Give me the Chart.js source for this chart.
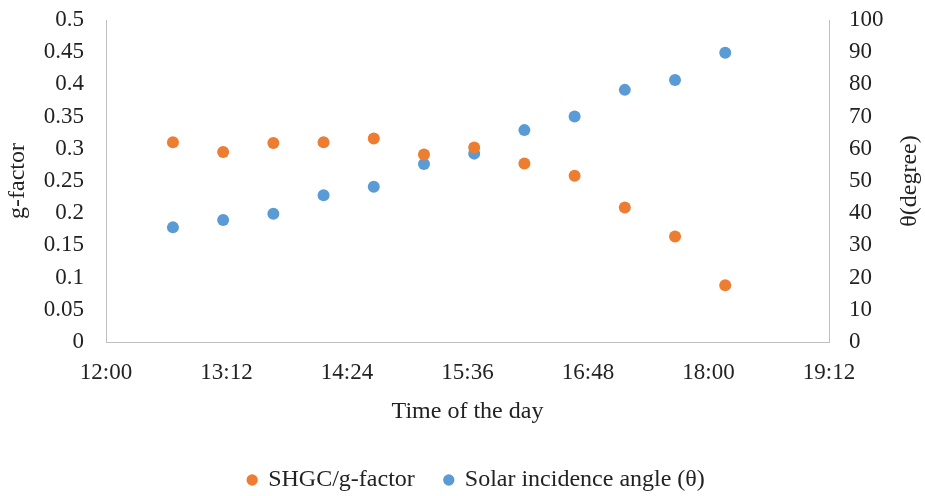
<!DOCTYPE html>
<html>
<head>
<meta charset="utf-8">
<script src="https://cdn.jsdelivr.net/npm/chart.js@4.4.1/dist/chart.umd.min.js"></script>
<style>
  html, body { margin: 0; padding: 0; background: #ffffff; }
  #wrap { width: 925px; height: 496px; position: relative; }
</style>
</head>
<body>
<div id="wrap"><canvas id="chart"></canvas></div>
<script>
// Measurement times (time of day)
const times = ['12:40', '13:10', '13:40', '14:10', '14:40', '15:10',
               '15:40', '16:10', '16:40', '17:10', '17:40', '18:10'];

// SHGC / g-factor (left axis)
const gFactor = [0.31, 0.295, 0.309, 0.31, 0.316, 0.291,
                 0.302, 0.277, 0.258, 0.209, 0.164, 0.088];

// Solar incidence angle in degrees (right axis)
const incidenceAngle = [35.6, 37.9, 39.8, 45.6, 48.2, 55.3,
                        58.5, 65.8, 70.0, 78.3, 81.4, 89.8];

// Tick labels
const timeTicks = ['12:00', '13:12', '14:24', '15:36', '16:48', '18:00', '19:12'];
const gTicks = ['0', '0.05', '0.1', '0.15', '0.2', '0.25', '0.3', '0.35', '0.4', '0.45', '0.5'];
const angleTicks = ['0', '10', '20', '30', '40', '50', '60', '70', '80', '90', '100'];

const seriesNames = ['SHGC/g-factor', 'Solar incidence angle (\u03b8)'];
const axisTitles = { x: 'Time of the day', yLeft: 'g-factor', yRight: '\u03b8(degree)' };

const toMinutes = s => { const [h, m] = s.split(':').map(Number); return h * 60 + m; };

const FONT = "'Liberation Serif', 'Times New Roman', serif";
const ORANGE = '#ED7D31';
const BLUE = '#5B9BD5';
const AXIS_LINE = '#bfbfbf';
const TEXT = '#222222';

// Right axis title, rotated so it reads bottom-to-top; legend nudged right
const extras = {
  id: 'extras',
  afterLayout(chart) {
    const lg = chart.legend;
    if (lg) { lg.left += 14; lg.right += 14; }
  },
  afterDraw(chart) {
    const ctx = chart.ctx;
    const area = chart.chartArea;
    ctx.save();
    ctx.translate(910, (area.top + area.bottom) / 2);
    ctx.rotate(-Math.PI / 2);
    ctx.font = '24px ' + FONT;
    ctx.fillStyle = TEXT;
    ctx.textAlign = 'center';
    ctx.textBaseline = 'middle';
    ctx.fillText(axisTitles.yRight, 0, 0);
    ctx.restore();
  }
};

// Vertical axes: fixed width, no extra vertical padding around the tick labels
const fixVertical = width => scale => {
  scale.width = width;
  scale.paddingTop = 0;
  scale.paddingBottom = 0;
};

new Chart(document.getElementById('chart'), {
  type: 'scatter',
  data: {
    datasets: [
      {
        label: seriesNames[0],
        data: times.map((t, i) => ({ x: toMinutes(t), y: gFactor[i] })),
        yAxisID: 'y',
        backgroundColor: ORANGE,
        borderColor: ORANGE,
        borderWidth: 0,
        pointRadius: 6,
        pointHoverRadius: 6
      },
      {
        label: seriesNames[1],
        data: times.map((t, i) => ({ x: toMinutes(t), y: incidenceAngle[i] })),
        yAxisID: 'y1',
        backgroundColor: BLUE,
        borderColor: BLUE,
        borderWidth: 0,
        pointRadius: 6,
        pointHoverRadius: 6
      }
    ]
  },
  options: {
    responsive: true,
    maintainAspectRatio: false,
    animation: false,
    devicePixelRatio: 1,
    layout: { padding: { left: 0, right: 0, top: 20, bottom: 0 } },
    plugins: {
      tooltip: { enabled: false },
      legend: {
        position: 'bottom',
        maxHeight: 58,
        labels: {
          usePointStyle: true,
          pointStyle: 'circle',
          boxWidth: 8,
          boxHeight: 8,
          padding: 30,
          color: TEXT,
          font: { family: FONT, size: 24 }
        }
      }
    },
    scales: {
      x: {
        type: 'linear',
        min: toMinutes(timeTicks[0]),
        max: toMinutes(timeTicks[timeTicks.length - 1]),
        afterBuildTicks(scale) {
          scale.ticks = timeTicks.map(s => ({ value: toMinutes(s) }));
        },
        afterFit(scale) { scale.height = 96; },
        grid: { display: false, drawTicks: false },
        border: { display: true, color: AXIS_LINE, width: 1 },
        ticks: {
          padding: 17,
          color: TEXT,
          font: { family: FONT, size: 23 },
          maxRotation: 0,
          callback: (v, i) => timeTicks[i]
        },
        title: {
          display: true,
          text: axisTitles.x,
          color: TEXT,
          font: { family: FONT, size: 24 },
          padding: { top: 0, bottom: 12 }
        }
      },
      y: {
        position: 'left',
        min: 0,
        max: 0.5,
        afterFit: fixVertical(106),
        grid: { display: false, drawTicks: false },
        border: { display: true, color: AXIS_LINE, width: 1 },
        ticks: {
          stepSize: 0.05,
          padding: 22,
          color: TEXT,
          font: { family: FONT, size: 23 },
          callback: (v, i) => gTicks[i]
        },
        title: {
          display: true,
          text: axisTitles.yLeft,
          color: TEXT,
          font: { family: FONT, size: 24 },
          padding: { top: 3, bottom: 0 }
        }
      },
      y1: {
        position: 'right',
        min: 0,
        max: 100,
        afterFit: fixVertical(96),
        grid: { display: false, drawTicks: false },
        border: { display: true, color: AXIS_LINE, width: 1 },
        ticks: {
          stepSize: 10,
          padding: 20,
          color: TEXT,
          font: { family: FONT, size: 23 },
          callback: (v, i) => angleTicks[i]
        }
      }
    }
  },
  plugins: [extras]
});
</script>
</body>
</html>
